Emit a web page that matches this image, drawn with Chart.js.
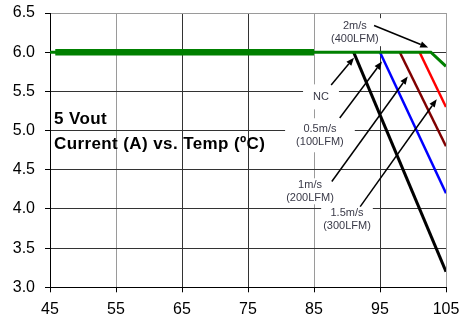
<!DOCTYPE html>
<html>
<head>
<meta charset="utf-8">
<script src="https://cdn.jsdelivr.net/npm/chart.js@4.4.1/dist/chart.umd.min.js"></script>
<style>
html,body{margin:0;padding:0;background:#fff;}
#c{display:block;}
</style>
</head>
<body>
<canvas id="c" width="467" height="315"></canvas>
<script>
// ---- data ----
const xTicks = [45, 55, 65, 75, 85, 95, 105];
const yTicks = [3.0, 3.5, 4.0, 4.5, 5.0, 5.5, 6.0, 6.5];

// natural convection / airflow derating curves: temperature (°C) vs current (A)
const greenTemp   = [45, 102.7, 105];
const greenAmps   = [6.0, 6.0, 5.82];
const greenBoldTemp = [45.8, 85];
const greenBoldAmps = [6.0, 6.0];
const ncTemp      = [91, 105];
const ncAmps      = [6.0, 3.2];
const ms05Temp    = [95, 105];
const ms05Amps    = [6.0, 4.2];
const ms1Temp     = [98, 105];
const ms1Amps     = [6.0, 4.8];
const ms15Temp    = [101, 105];
const ms15Amps    = [6.0, 5.3];

const labelLines = [
  ["2m/s", "(400LFM)"],
  ["NC"],
  ["0.5m/s", "(100LFM)"],
  ["1m/s", "(200LFM)"],
  ["1.5m/s", "(300LFM)"]
];
const titleLine1 = "5 Vout";
const titleLine2 = "Current (A) vs. Temp (ºC)";

function pts(xs, ys){ return xs.map((x,i)=>({x:x, y:ys[i]})); }

// annotation placement (data coordinates)
const labelPos = [
  {x:91.2, y:6.255, padX:3, padY:1, arrow:[94.1,6.34,102.3,6.06]},
  {x:86.06, y:5.43, padX:10, padY:6, arrow:[87.6,5.58,91.06,5.93]},
  {x:85.9, y:4.94, padX:11, padY:4, arrow:[88.9,5.16,95.3,5.88]},
  {x:84.4, y:4.225, padX:0, padY:0, arrow:[87.7,4.35,99.2,5.69]},
  {x:90.0, y:3.865, padX:2, padY:2, arrow:[92.0,4.03,103.6,5.40]}
];
const titlePos = [{x:45.6, y:5.14}, {x:45.6, y:4.82}];

const FONT = "'Liberation Sans', Arial, sans-serif";

const annot = {
  id: 'annot',
  beforeDatasetsDraw(chart){
    const ctx = chart.ctx, xs = chart.scales.x, ys = chart.scales.y;
    ctx.save();
    ctx.font = "11px " + FONT;
    const lh = 13;
    labelLines.forEach((lines, i) => {
      const p = labelPos[i];
      const cx = xs.getPixelForValue(p.x), cy = ys.getPixelForValue(p.y);
      const w = Math.max(...lines.map(l => ctx.measureText(l).width));
      const h = lines.length * lh;
      ctx.fillStyle = '#fff';
      ctx.fillRect(cx - w/2 - p.padX, cy - h/2 - p.padY, w + 2*p.padX, h + 2*p.padY);
      ctx.fillStyle = '#3a3a48';
      ctx.textAlign = 'center';
      ctx.textBaseline = 'middle';
      lines.forEach((l, k) => {
        ctx.fillText(l, cx, cy - h/2 + lh/2 + k*lh);
      });
    });
    ctx.font = "bold 17px " + FONT;
    try { ctx.letterSpacing = '0.4px'; } catch(e) {}
    ctx.fillStyle = '#000';
    ctx.textAlign = 'left';
    ctx.textBaseline = 'middle';
    ctx.fillText(titleLine1, xs.getPixelForValue(titlePos[0].x), ys.getPixelForValue(titlePos[0].y));
    ctx.fillText(titleLine2, xs.getPixelForValue(titlePos[1].x), ys.getPixelForValue(titlePos[1].y));
    try { ctx.letterSpacing = '0px'; } catch(e) {}
    ctx.restore();
  },
  afterDatasetsDraw(chart){
    const ctx = chart.ctx, xs = chart.scales.x, ys = chart.scales.y;
    ctx.save();
    ctx.strokeStyle = '#000';
    ctx.fillStyle = '#000';
    ctx.lineWidth = 1.5;
    labelPos.forEach(p => {
      const [x1,y1,x2,y2] = p.arrow;
      const ax = xs.getPixelForValue(x1), ay = ys.getPixelForValue(y1);
      const bx = xs.getPixelForValue(x2), by = ys.getPixelForValue(y2);
      const ang = Math.atan2(by - ay, bx - ax);
      const L = 8, W = 3.2;
      const hx = bx - L*Math.cos(ang), hy = by - L*Math.sin(ang);
      ctx.beginPath();
      ctx.moveTo(ax, ay);
      ctx.lineTo(hx, hy);
      ctx.stroke();
      ctx.beginPath();
      ctx.moveTo(bx, by);
      ctx.lineTo(hx + W*Math.sin(ang), hy - W*Math.cos(ang));
      ctx.lineTo(hx - W*Math.sin(ang), hy + W*Math.cos(ang));
      ctx.closePath();
      ctx.fill();
    });
    ctx.restore();
  }
};

const vGridColors = {45:'#000', 55:'#9a9a9a', 65:'#333', 75:'#333', 85:'#9a9a9a', 95:'#333', 105:'#a0a0a0'};

new Chart(document.getElementById('c'), {
  type: 'line',
  data: {
    datasets: [
      {data: pts(greenBoldTemp, greenBoldAmps), borderColor:'#008000', borderWidth:6.5, pointRadius:0, order:0, borderCapStyle:'butt'},
      {data: pts(greenTemp, greenAmps), borderColor:'#008000', borderWidth:3, pointRadius:0, order:1},
      {data: pts(ncTemp, ncAmps), borderColor:'#000000', borderWidth:3, pointRadius:0, order:2},
      {data: pts(ms05Temp, ms05Amps), borderColor:'#0000ff', borderWidth:2.5, pointRadius:0, order:3},
      {data: pts(ms1Temp, ms1Amps), borderColor:'#800000', borderWidth:2.5, pointRadius:0, order:4},
      {data: pts(ms15Temp, ms15Amps), borderColor:'#ff0000', borderWidth:2.5, pointRadius:0, order:5}
    ]
  },
  options: {
    responsive: false,
    animation: false,
    events: [],
    layout: {padding: {top: 13, right: 21, left: 0, bottom: 0}},
    plugins: {legend: {display:false}, tooltip: {enabled:false}},
    scales: {
      x: {
        type: 'linear',
        min: 45, max: 105,
        afterBuildTicks(scale){ scale.ticks = xTicks.map(v => ({value: v})); },
        afterFit(scale){ scale.height = 27.7; scale.paddingLeft = 0; scale.paddingRight = 0; },
        ticks: {color:'#000', font:{family: FONT, size:16}, padding:8, maxRotation:0,
                callback: v => String(v)},
        grid: {
          color: ctx => vGridColors[ctx.tick && ctx.tick.value] || '#333',
          tickColor: '#000', tickLength: 5, lineWidth: 1
        },
        border: {color:'#000', width:1}
      },
      y: {
        type: 'linear',
        min: 3.0, max: 6.5,
        afterBuildTicks(scale){ scale.ticks = yTicks.map(v => ({value: v})); },
        afterFit(scale){ scale.width = 50; scale.paddingTop = 0; scale.paddingBottom = 0; },
        ticks: {color:'#000', font:{family: FONT, size:16}, padding:10,
                callback: v => Number(v).toFixed(1)},
        grid: {
          color: ctx => (ctx.tick && ctx.tick.value === 6.5) ? '#9a9a9a' : '#333',
          tickColor: '#000', tickLength: 5, lineWidth: 1
        },
        border: {color:'#000', width:1}
      }
    }
  },
  plugins: [annot]
});
</script>
</body>
</html>
